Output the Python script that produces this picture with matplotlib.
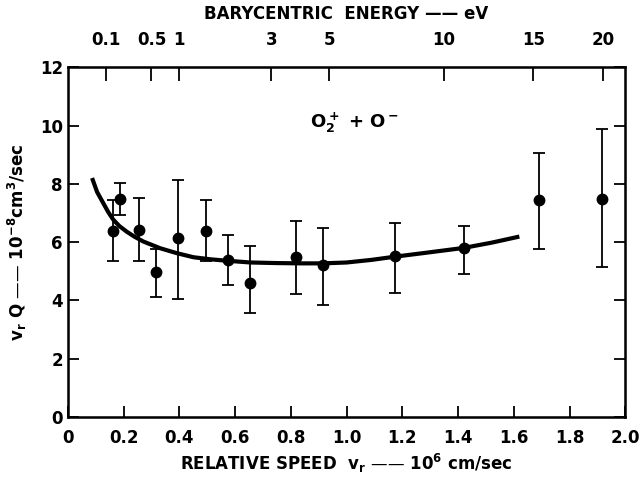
import numpy as np
import matplotlib
matplotlib.use("Agg")
import matplotlib.pyplot as plt

plt.rcParams['font.family'] = ['Liberation Sans Narrow', 'DejaVu Sans']
plt.rcParams['font.weight'] = 'bold'
plt.rcParams['axes.labelweight'] = 'bold'
plt.rcParams['mathtext.fontset'] = 'dejavusans'
plt.rcParams['mathtext.default'] = 'bf'

# measured points: relative speed (10^6 cm/s), v_r*Q, error bar ends
speed = [0.163, 0.187, 0.255, 0.317, 0.397, 0.495, 0.573, 0.655,
         0.817, 0.916, 1.174, 1.42, 1.69, 1.917]
rate = [6.39, 7.49, 6.40, 4.99, 6.14, 6.39, 5.39, 4.59,
        5.50, 5.22, 5.53, 5.79, 7.45, 7.48]
err_lo = [5.36, 6.94, 5.36, 4.13, 4.04, 5.36, 4.53, 3.58,
          4.21, 3.84, 4.24, 4.91, 5.76, 5.14]
err_hi = [7.45, 8.03, 7.53, 5.76, 8.14, 7.45, 6.25, 5.87,
          6.71, 6.50, 6.67, 6.56, 9.06, 9.89]

# smooth curve drawn through the data
curve_x = [0.087, 0.105, 0.127, 0.145, 0.163, 0.185, 0.211, 0.24, 0.271, 0.331,
           0.391, 0.451, 0.511, 0.571, 0.655, 0.75, 0.835, 0.916, 1.0,
           1.09, 1.174, 1.29, 1.42, 1.52, 1.62]
curve_y = [8.2, 7.72, 7.34, 7.03, 6.77, 6.55, 6.36, 6.18, 6.02, 5.79,
           5.62, 5.48, 5.41, 5.36, 5.30, 5.28, 5.27, 5.27, 5.30,
           5.39, 5.50, 5.64, 5.80, 5.98, 6.19]

# barycentric energy scale on top
energy_labels = ["0.1", "0.5", "1", "3", "5", "10", "15", "20"]
energy_pos = [0.138, 0.30, 0.40, 0.73, 0.937, 1.35, 1.67, 1.92]

fig = plt.figure(figsize=(6.4, 4.78), dpi=100)
ax = fig.add_axes([0.106, 0.128, 0.871, 0.731])

lo = np.array(rate) - np.array(err_lo)
hi = np.array(err_hi) - np.array(rate)
ax.errorbar(speed, rate, yerr=[lo, hi], fmt='o', color='black', ms=7.5,
            elinewidth=1.3, capsize=4, capthick=1.3)
ax.plot(curve_x, curve_y, color='black', lw=3, solid_capstyle='butt')

ax.set_xlim(0, 2.0)
ax.set_ylim(0, 12)
ax.set_xticks(np.arange(0, 2.01, 0.2))
ax.set_xticklabels(["0", "0.2", "0.4", "0.6", "0.8", "1.0", "1.2", "1.4",
                    "1.6", "1.8", "2.0"])
ax.set_yticks(np.arange(0, 13, 2))
ax.tick_params(axis='x', pad=9)
ax.tick_params(direction='in', length=8, width=1.3, labelsize=12,
               right=True, top=False)
for s in ax.spines.values():
    s.set_linewidth(1.8)

ax.set_xlabel(r"RELATIVE SPEED  v$_r$ —— 10$^6$ cm/sec", fontsize=12,
              labelpad=3)
ax.set_ylabel(r"v$_r$ Q —— 10$^{-8}$cm$^3$/sec", fontsize=12, labelpad=8)

top = ax.twiny()
top.set_xlim(ax.get_xlim())
top.set_xticks(energy_pos)
top.set_xticklabels(energy_labels)
top.tick_params(direction='in', length=10, width=1.3, labelsize=12, pad=13)
top.set_xlabel("BARYCENTRIC  ENERGY —— eV", fontsize=12, labelpad=9)

ax.text(0.87, 10.1, r"O$_2^+$ + O$^-$", fontsize=13, ha='left', va='center')

fig.savefig("out.png", dpi=100)
